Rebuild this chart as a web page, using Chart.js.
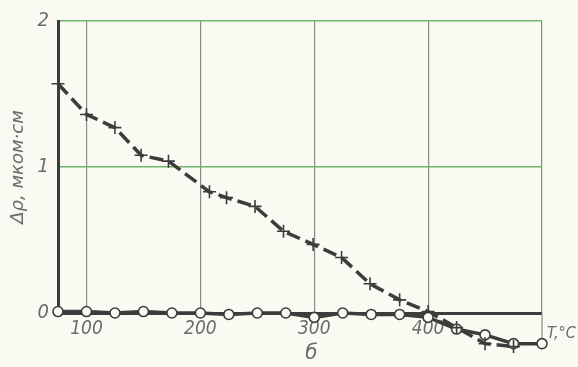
<!DOCTYPE html>
<html><head><meta charset="utf-8">
<script src="https://cdn.jsdelivr.net/npm/chart.js@4"></script>
<style>html,body{margin:0;padding:0;background:#fbfaf2;overflow:hidden;}</style>
</head><body>
<canvas id="c" width="578" height="367"></canvas>
<script>
const circleX = [75,100,125,150,175,200,225,250,275,300,325,350,375,400,425,450,475,500];
const circleY = [0.01,0.01,0.0,0.01,0.0,0.0,-0.01,0.0,0.0,-0.03,0.0,-0.01,-0.01,-0.03,-0.11,-0.15,-0.21,-0.21];
const crossX = [75,100,125,148,172,208,223,248,273,299,324,349,375,400,425,450,475];
const crossY = [1.57,1.36,1.27,1.08,1.04,0.83,0.79,0.73,0.56,0.47,0.38,0.20,0.09,0.01,-0.10,-0.21,-0.23];
const xTicks = [100,200,300,400];
const yTicks = [0,1,2];
const xTitle = 'б';
const yTitle = 'Δρ, мком·см';
const unitLabel = 'T,°C';

const INK = '#3c3c3c';
const TXT = '#6a6a6a';
const FAM = "'DejaVu Sans Condensed', 'DejaVu Sans', sans-serif";

const extra = {
  id: 'extra',
  beforeDatasetsDraw(chart) {
    const {ctx, scales:{x, y}} = chart;
    const px = x.getPixelForValue(500);
    ctx.save();
    ctx.strokeStyle = '#8a8a8a';
    ctx.lineWidth = 1.2;
    ctx.beginPath();
    ctx.moveTo(px, y.getPixelForValue(0));
    ctx.lineTo(px, y.getPixelForValue(circleY[circleY.length-1]));
    ctx.stroke();
    ctx.restore();
  },
  afterDatasetsDraw(chart) {
    // draw the points that lie below the plot frame (the library skips them)
    const ctx = chart.ctx;
    const area = chart.chartArea;
    const big = {left: -1e4, top: -1e4, right: 1e4, bottom: 1e4};
    for (let d = 0; d < chart.data.datasets.length; d++) {
      const meta = chart.getDatasetMeta(d);
      meta.data.forEach(el => {
        const m = el.size(el.options) / 2;
        if (el.y > area.bottom + m || el.y < area.top - m || el.x < area.left - m || el.x > area.right + m) {
          el.draw(ctx, big);
        }
      });
    }
  },
  afterDraw(chart) {
    const {ctx, scales:{x, y}} = chart;
    ctx.save();
    ctx.fillStyle = TXT;
    ctx.font = "italic 16px " + FAM;
    ctx.textAlign = 'left';
    ctx.textBaseline = 'middle';
    ctx.fillText(unitLabel, x.getPixelForValue(500) + 5, y.getPixelForValue(circleY[circleY.length-1]) - 10);
    ctx.font = "italic 22px " + FAM;
    ctx.textAlign = 'center';
    ctx.fillText(xTitle, x.getPixelForValue(300) - 3, 353);
    ctx.restore();
  }
};

new Chart(document.getElementById('c'), {
  type: 'scatter',
  data: {
    datasets: [
      {
        data: circleX.map((v,i)=>({x:v, y:circleY[i]})),
        showLine: true,
        borderColor: INK,
        borderWidth: 3.5,
        pointStyle: 'circle',
        pointRadius: 5,
        pointBackgroundColor: '#fbfaf2',
        pointBorderColor: INK,
        pointBorderWidth: 1.6,
        clip: false
      },
      {
        data: crossX.map((v,i)=>({x:v, y:crossY[i]})),
        showLine: true,
        borderColor: INK,
        borderWidth: 3.5,
        borderDash: [14, 6],
        pointStyle: 'cross',
        pointRadius: 6.5,
        pointBorderColor: INK,
        pointBorderWidth: 1.6,
        clip: false
      }
    ]
  },
  options: {
    responsive: false,
    animation: false,
    devicePixelRatio: 1,
    layout: {padding: {top: 21, right: 36, left: 0, bottom: 0}},
    plugins: {legend: {display: false}, tooltip: {enabled: false}},
    scales: {
      x: {
        type: 'linear', min: 75, max: 500,
        afterBuildTicks: s => { s.ticks = [75, ...xTicks, 500].map(v => ({value: v})); },
        afterFit: s => { s.height = 54; },
        ticks: {
          padding: 5, color: TXT, autoSkip: false, maxRotation: 0,
          font: {family: FAM, style: 'italic', size: 19},
          callback: v => xTicks.includes(v) ? String(v) : ''
        },
        grid: {color: '#8a8a8a', lineWidth: 1.2, drawTicks: false},
        border: {display: false},
        title: {display: false, text: xTitle}
      },
      y: {
        min: 0, max: 2,
        afterBuildTicks: s => { s.ticks = yTicks.map(v => ({value: v})); },
        afterFit: s => { s.width = 58; },
        ticks: {padding: 9, color: TXT, font: {family: FAM, style: 'italic', size: 20}},
        grid: {
          color: c => c.tick && c.tick.value === 0 ? INK : '#6fb46f',
          lineWidth: c => c.tick && c.tick.value === 0 ? 3 : 1.5,
          drawTicks: false
        },
        border: {display: true, color: INK, width: 3},
        title: {display: true, text: yTitle, color: TXT, font: {family: "'DejaVu Sans', sans-serif", style: 'italic', size: 18}, padding: {top: 8, bottom: 0}}
      }
    }
  },
  plugins: [extra]
});
</script>
</body></html>
